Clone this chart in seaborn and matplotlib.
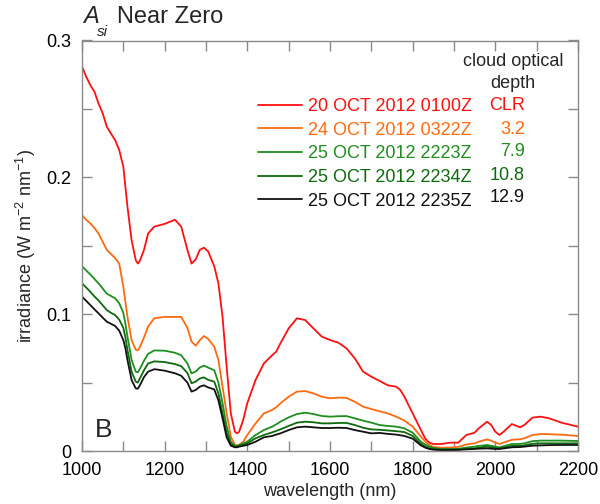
import numpy as np
import pandas as pd
import seaborn as sns
import matplotlib
matplotlib.use("Agg")
import matplotlib.pyplot as plt
from matplotlib.ticker import MultipleLocator, FixedLocator

sns.set_style("ticks")
plt.rcParams['font.family'] = ['Liberation Sans', 'DejaVu Sans']
plt.rcParams['mathtext.fontset'] = 'custom'
plt.rcParams['mathtext.rm'] = 'Liberation Sans'
plt.rcParams['mathtext.it'] = 'Liberation Sans:italic'

# ---------------- data ----------------
wavelength = [
    1000, 1010, 1020, 1030, 1040, 1050, 1060, 1070, 1080, 1090,
    1100, 1105, 1110, 1120, 1130, 1135, 1140, 1150, 1160, 1175,
    1200, 1225, 1240, 1255, 1265, 1275, 1285, 1295, 1305, 1320,
    1330, 1340, 1350, 1360, 1370, 1375, 1380, 1390, 1400, 1420,
    1440, 1460, 1470, 1480, 1500, 1520, 1540, 1560, 1580, 1600,
    1620, 1640, 1660, 1680, 1700, 1720, 1740, 1760, 1770, 1780,
    1800, 1820, 1830, 1840, 1850, 1870, 1890, 1910, 1930, 1950,
    1960, 1980, 1990, 2000, 2010, 2020, 2040, 2060, 2070, 2090,
    2110, 2130, 2160, 2200]

red_clr = [
    .281, .2736, .2675, .2626, .254, .2468, .237, .232, .2273, .220,
    .2078, .193, .1786, .154, .1396, .137, .139, .147, .159, .164,
    .166, .169, .164, .147, .137, .140, .147, .1486, .146, .135,
    .1225, .098, .0616, .0275, .0141, .0129, .014, .0227, .035, .052,
    .064, .070, .0726, .0787, .0896, .097, .0957, .0896, .0836, .0811,
    .0792, .075, .0677, .058, .0543, .0512, .048, .047, .0446, .0397,
    .0275, .0153, .0093, .0061, .0051, .0051, .0061, .0061, .0117, .0134,
    .0166, .0214, .019, .0141, .0117, .0141, .0197, .0173, .019, .0244,
    .0251, .0239, .0207, .0178]

orange_32 = [
    .1725, .169, .1664, .163, .159, .153, .147, .144, .141, .137,
    .120, .109, .098, .081, .074, .0735, .076, .083, .091, .097,
    .098, .098, .098, .090, .080, .077, .081, .084, .082, .0762,
    .0665, .047, .0275, .0105, .0044, .0042, .0044, .0068, .0117, .0202,
    .0275, .030, .032, .0348, .0397, .0434, .0438, .0421, .0397, .0385,
    .039, .0388, .036, .0324, .0307, .029, .0275, .0251, .0237, .0222,
    .0178, .0105, .007, .0044, .003, .0024, .0025, .003, .0048, .0056,
    .0068, .0085, .0075, .0061, .0051, .0062, .0082, .0086, .0093, .0117,
    .0124, .0123, .0119, .011]

green_79 = [
    .135, .132, .129, .1258, .1225, .1188, .115, .1133, .1116, .108,
    .101, .093, .0836, .0665, .058, .0575, .060, .066, .071, .0735,
    .0733, .0718, .070, .064, .0568, .058, .061, .0624, .061, .059,
    .050, .035, .0178, .0068, .0037, .0036, .0044, .0055, .0068, .0117,
    .0153, .0178, .0195, .0214, .0246, .027, .028, .027, .0256, .0251,
    .0254, .0255, .0239, .0222, .0207, .019, .0183, .0178, .0172, .0166,
    .0134, .0068, .0048, .0032, .0022, .0015, .0015, .0016, .0025, .0032,
    .0037, .0044, .0038, .0032, .0027, .0035, .0051, .0052, .0056, .0072,
    .0076, .0076, .0076, .0073]

green_108 = [
    .1225, .1195, .1164, .113, .110, .1065, .103, .101, .0994, .096,
    .090, .083, .0738, .058, .0507, .050, .053, .059, .064, .0655,
    .065, .0635, .062, .057, .0495, .0507, .053, .0538, .052, .0507,
    .042, .0275, .0129, .0051, .0032, .0031, .0037, .0045, .0056, .0093,
    .0117, .0136, .0147, .0158, .0183, .0207, .0214, .021, .0202, .0202,
    .0205, .0205, .019, .017, .0158, .0155, .015, .0145, .0142, .0138,
    .011, .0051, .0033, .0019, .0013, .001, .001, .0011, .0016, .0019,
    .0024, .0032, .0027, .0022, .0019, .0025, .0037, .0038, .0041, .0053,
    .0056, .0056, .0056, .0056]

black_129 = [
    .1128, .1098, .1067, .1036, .1006, .0975, .0945, .093, .0914, .088,
    .081, .075, .0665, .0519, .0458, .0455, .048, .054, .058, .0598,
    .0587, .0568, .055, .050, .0434, .0446, .047, .048, .0465, .045,
    .037, .0239, .010, .0039, .0027, .0027, .0032, .0038, .0044, .0068,
    .010, .011, .012, .0129, .0153, .0173, .0178, .0173, .0168, .0168,
    .017, .0168, .0153, .0141, .0129, .0132, .0125, .012, .0115, .011,
    .009, .0041, .0025, .0015, .001, .0007, .0007, .0008, .0012, .0015,
    .0017, .0019, .0017, .0015, .0015, .0019, .0027, .0029, .0032, .0039,
    .0041, .0043, .0044, .0044]

series_names = ["20 OCT 2012 0100Z", "24 OCT 2012 0322Z", "25 OCT 2012 2223Z",
                "25 OCT 2012 2234Z", "25 OCT 2012 2235Z"]
optical_depth = ["CLR", "3.2", "7.9", "10.8", "12.9"]
colors = ["#FF1010", "#FF6A10", "#1E8E1E", "#0D6A0D", "#111111"]
series_values = [red_clr, orange_32, green_79, green_108, black_129]

x_ticks = [1000, 1200, 1400, 1600, 1800, 2000, 2200]
y_ticks = [0, 0.1, 0.2, 0.3]
y_tick_labels = ["0", "0.1", "0.2", "0.3"]

frames = []
for name, vals in zip(series_names, series_values):
    frames.append(pd.DataFrame({"wavelength": wavelength, "irradiance": vals, "series": name}))
df = pd.concat(frames, ignore_index=True)

# ---------------- figure ----------------
W, H = 600, 504
fig = plt.figure(figsize=(W / 100, H / 100), dpi=100)
ax = fig.add_axes([82 / W, 1 - 451 / H, 496 / W, 410.5 / H])

sns.lineplot(data=df, x="wavelength", y="irradiance", hue="series",
             hue_order=series_names, palette=colors, estimator=None,
             sort=False, linewidth=1.3, legend=False, ax=ax)

ax.set_xlim(1000, 2200)
ax.set_ylim(0, 0.3)
ax.xaxis.set_major_locator(FixedLocator(x_ticks))
ax.xaxis.set_minor_locator(MultipleLocator(100))
ax.yaxis.set_major_locator(FixedLocator(y_ticks))
ax.set_yticklabels(y_tick_labels)
ax.yaxis.set_minor_locator(MultipleLocator(0.05))
ax.set_xticklabels([str(t) for t in x_ticks])

for s in ax.spines.values():
    s.set_visible(True)
    s.set_color("#8a8a8a")
    s.set_linewidth(1.0)
ax.tick_params(which="both", direction="in", top=True, right=True,
               length=7, width=1.0, color="#8a8a8a", labelsize=13,
               labelcolor="black", pad=8)

ax.set_xlabel("wavelength (nm)", fontsize=13, labelpad=3)
ax.set_ylabel(r"irradiance (W m$^{-2}$ nm$^{-1}$)", fontsize=13, labelpad=6)

# title pieces
fig.text(83 / W, 1 - 23 / H, "A", fontsize=17, style="italic", va="baseline", ha="left")
fig.text(97 / W, 1 - 36 / H, "si", fontsize=11, style="italic", va="baseline", ha="left")
fig.text(117 / W, 1 - 23 / H, "Near Zero", fontsize=17, va="baseline", ha="left")

# panel letter
ax.text(95 / W, 1 - 437 / H, "B", fontsize=19, va="baseline", ha="left",
        transform=fig.transFigure)

# legend
handles = ax.get_lines()[:5]
leg = ax.legend(handles=handles, labels=series_names, loc="upper left",
                bbox_to_anchor=(258 / W, 1 - 98 / H), bbox_transform=fig.transFigure,
                frameon=False, borderpad=0, borderaxespad=0, handlelength=2.45,
                handletextpad=0.3, labelspacing=0.37, fontsize=13,
                labelcolor=colors)

row_y = [106, 129, 152, 175, 198]
for val, c, yy in zip(optical_depth, colors, row_y):
    fig.text(525 / W, 1 - yy / H, val, color=c, fontsize=13, ha="right", va="center")
fig.text(513 / W, 1 - 62 / H, "cloud optical", fontsize=13, ha="center", va="center")
fig.text(513 / W, 1 - 83 / H, "depth", fontsize=13, ha="center", va="center")

fig.savefig("out.png", dpi=100)
